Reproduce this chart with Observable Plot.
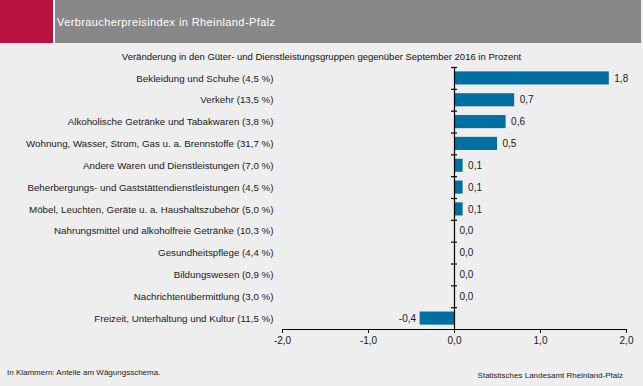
<!DOCTYPE html>
<html>
<head>
<meta charset="utf-8">
<script src="https://cdn.jsdelivr.net/npm/d3@7"></script>
<script src="https://cdn.jsdelivr.net/npm/@observablehq/plot@0.6"></script>
<style>
  html, body { margin: 0; padding: 0; background: #eeeeee; }
  #wrap { position: relative; width: 643px; height: 386px; overflow: hidden; background: #eeeeee; font-family: "Liberation Sans", Arial, sans-serif; }
  #red { position: absolute; left: 0; top: 0; width: 53px; height: 43px; background: #b8133f; }
  #gap { position: absolute; left: 53px; top: 0; width: 2px; height: 43px; background: #ffffff; }
  #gray { position: absolute; left: 55px; top: 0; width: 586px; height: 43px; background: #888888; }
  #title { position: absolute; left: 57px; top: 16px; color: #ffffff; font-size: 11px; letter-spacing: 0.4px; white-space: nowrap; }
  #subtitle { position: absolute; left: 0; width: 643px; top: 51px; text-align: center; font-size: 9.5px; color: #111; white-space: nowrap; }
  #noteL { position: absolute; left: 7px; top: 368px; font-size: 8px; color: #222; white-space: nowrap; }
  #noteR { position: absolute; right: 20px; top: 371px; font-size: 8px; color: #222; white-space: nowrap; }
  #chart { position: absolute; left: 0; top: 0; }
</style>
</head>
<body>
<div id="wrap">
  <div id="red"></div><div id="gap"></div><div id="gray"></div>
  <div id="title">Verbraucherpreisindex in Rheinland-Pfalz</div>
  <div id="subtitle">Veränderung in den Güter- und Dienstleistungsgruppen gegenüber September 2016 in Prozent</div>
  <div id="chart"></div>
  <div id="noteL">In Klammern: Anteile am Wägungsschema.</div>
  <div id="noteR">Statistisches Landesamt Rheinland-Pfalz</div>
</div>
<script>
const categories = [
  "Bekleidung und Schuhe (4,5 %)",
  "Verkehr (13,5 %)",
  "Alkoholische Getränke und Tabakwaren (3,8 %)",
  "Wohnung, Wasser, Strom, Gas u. a. Brennstoffe (31,7 %)",
  "Andere Waren und Dienstleistungen (7,0 %)",
  "Beherbergungs- und Gaststättendienstleistungen (4,5 %)",
  "Möbel, Leuchten, Geräte u. a. Haushaltszubehör (5,0 %)",
  "Nahrungsmittel und alkoholfreie Getränke (10,3 %)",
  "Gesundheitspflege (4,4 %)",
  "Bildungswesen (0,9 %)",
  "Nachrichtenübermittlung (3,0 %)",
  "Freizeit, Unterhaltung und Kultur (11,5 %)"
];
const values = [1.8, 0.7, 0.6, 0.5, 0.1, 0.1, 0.1, 0.0, 0.0, 0.0, 0.0, -0.4];
const xTicks = [-2, -1, 0, 1, 2];

const data = categories.map((c, i) => ({cat: c, v: values[i]}));
const fmt = d => d.toFixed(1).replace(".", ",");

const H = 386, mTop = 67, mBottom = 57;
const step = (H - mTop - mBottom) / categories.length;

const chart = Plot.plot({
  width: 643,
  height: H,
  marginLeft: 282,
  marginRight: 17,
  marginTop: mTop,
  marginBottom: mBottom,
  style: {background: "transparent", fontFamily: "'Liberation Sans', Arial, sans-serif", fontSize: "10px", color: "#1a1a1a"},
  x: {domain: [-2, 2]},
  y: {domain: categories, paddingInner: 0.4, paddingOuter: 0.2, round: false},
  marks: [
    Plot.barX(data, {x: "v", y: "cat", fill: "#0070a2"}),
    Plot.ruleX([0], {stroke: "#000", strokeWidth: 1.2}),
    Plot.ruleY(categories, {y: d => d, x1: -0.035, x2: 0.035, dy: -step / 2, stroke: "#000", strokeWidth: 1.2}),
    Plot.frame({anchor: "bottom", stroke: "#000", strokeWidth: 1.2}),
    Plot.axisX({ticks: xTicks, tickFormat: fmt, tickSize: 4, tickPadding: 3, label: null, stroke: "#000", fontSize: 10}),
    Plot.axisY({tickSize: 0, tickPadding: 9, label: null, fontSize: 9.75}),
    Plot.text(data.filter(d => d.v >= 0), {x: "v", y: "cat", text: d => fmt(d.v), dx: 5, textAnchor: "start", fontSize: 10, fill: "#1a1a1a"}),
    Plot.text(data.filter(d => d.v < 0), {x: "v", y: "cat", text: d => fmt(d.v), dx: -4, textAnchor: "end", fontSize: 10, fill: "#1a1a1a"})
  ]
});
document.getElementById("chart").appendChild(chart);
</script>
</body>
</html>
